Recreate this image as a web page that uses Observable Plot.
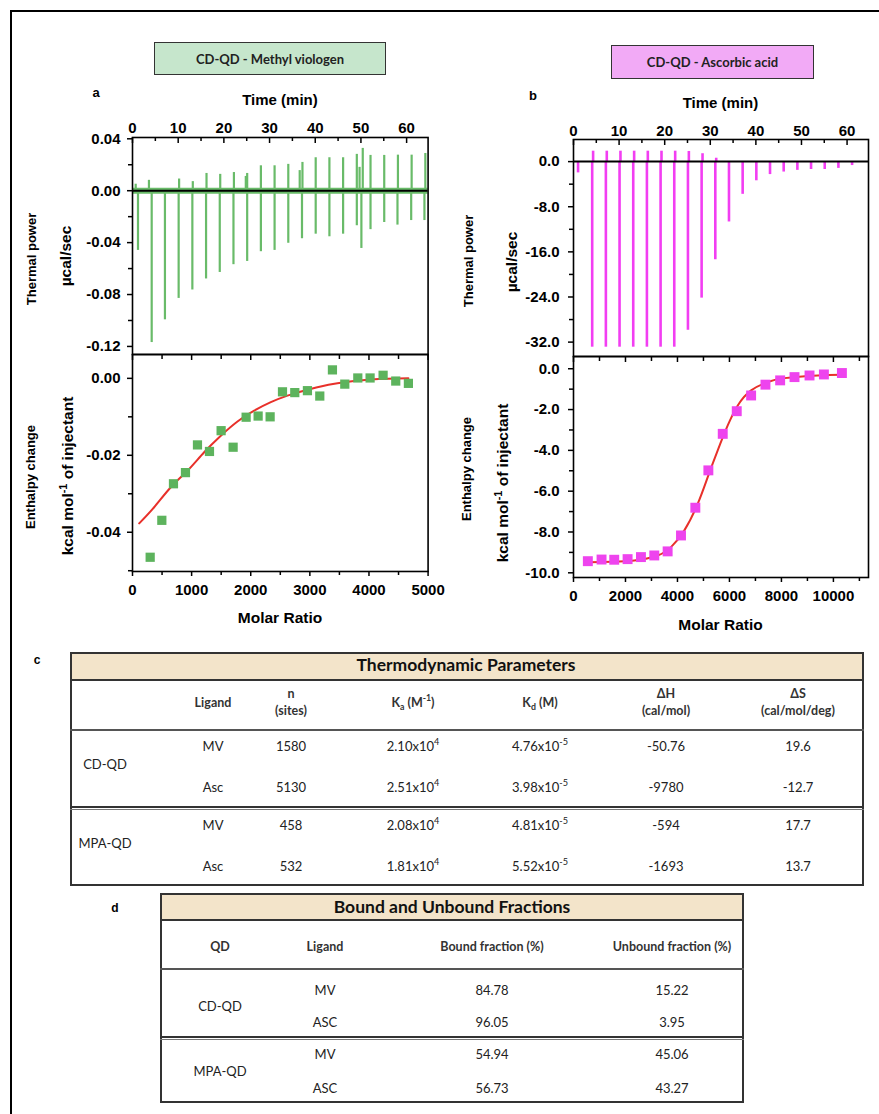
<!DOCTYPE html>
<html><head><meta charset="utf-8">
<script src="https://cdn.jsdelivr.net/npm/d3@7"></script>
<script src="https://cdn.jsdelivr.net/npm/@observablehq/plot@0.6"></script>
<style>
body{margin:0;background:#fff;}
#page{position:relative;width:879px;height:1114px;overflow:hidden;font-family:"Liberation Sans",Arial,sans-serif;background:#fff;}
.t{position:absolute;white-space:nowrap;transform:translate(-50%,-50%);line-height:1;}
.box{position:absolute;box-sizing:border-box;}
sup,sub{font-size:70%;line-height:0;}
</style></head><body><div id="page"></div>
<script>
// ---------------- DATA ----------------
// Panel a (CD-QD - Methyl viologen) raw thermogram: injection spikes
const downTimeA = [1.2, 4.2, 7.1, 10.1, 13.1, 16.1, 19.1, 22.1, 25.1, 28.1, 31.1, 34.1, 37.1, 40.1, 43.1, 46.1, 49.1, 50.1, 52.1, 55.1, 58.0, 61.0, 63.9];
const downPowerA = [-0.046, -0.117, -0.0995, -0.083, -0.0765, -0.068, -0.063, -0.057, -0.0545, -0.047, -0.046, -0.0405, -0.037, -0.0335, -0.0355, -0.0335, -0.027, -0.0445, -0.030, -0.0245, -0.0265, -0.023, -0.023];
const upTimeA = [0.7, 3.6, 10.2, 13.2, 16.2, 19.2, 22.2, 24.8, 25.1, 28.1, 31.1, 34.1, 36.6, 37.2, 40.1, 43.1, 46.1, 49.1, 49.7, 50.4, 52.1, 55.1, 58.1, 61.1, 64.1];
const upPowerA = [0.005, 0.008, 0.009, 0.007, 0.0133, 0.0126, 0.014, 0.011, 0.0133, 0.0192, 0.0192, 0.0203, 0.0155, 0.0218, 0.0254, 0.0254, 0.0254, 0.028, 0.018, 0.0326, 0.0272, 0.0272, 0.0274, 0.0274, 0.0287];
// Panel a integrated heats
const ratioA = [299, 496, 693, 896, 1099, 1302, 1499, 1702, 1922, 2125, 2328, 2537, 2745, 2959, 3168, 3382, 3591, 3811, 4019, 4239, 4453, 4667];
const heatA = [-0.0465, -0.0369, -0.0274, -0.0245, -0.0173, -0.0190, -0.0136, -0.0179, -0.0101, -0.0098, -0.0100, -0.0035, -0.0037, -0.0032, -0.0046, 0.0022, -0.0015, 0.0001, 0.0001, 0.0008, -0.0007, -0.0013];
const fitRatioA = [113, 366, 648, 930, 1212, 1494, 1776, 2058, 2340, 2621, 2903, 3185, 3467, 3749, 4031, 4313, 4667];
const fitHeatA = [-0.0377, -0.0335, -0.0283, -0.0240, -0.0192, -0.0149, -0.0112, -0.0084, -0.0062, -0.0045, -0.0032, -0.0021, -0.0013, -0.0007, -0.0003, -0.0001, 0];

// Panel b (CD-QD - Ascorbic acid) raw thermogram
const downTimeB = [1.0, 4.1, 7.1, 10.1, 13.1, 16.1, 19.1, 22.1, 25.1, 28.1, 31.1, 34.1, 37.1, 40.1, 43.1, 46.1, 49.1, 52.1, 55.1, 58.1, 61.1];
const downPowerB = [-2.0, -32.9, -32.9, -32.9, -32.9, -32.9, -32.9, -32.9, -29.9, -24.2, -17.4, -10.7, -5.8, -3.4, -2.3, -1.85, -1.55, -1.4, -1.4, -1.2, -0.7];
const upTimeB = [4.3, 7.3, 10.3, 13.3, 16.3, 19.3, 22.3, 25.3, 28.3, 31.3];
const upPowerB = [1.85, 1.85, 1.85, 1.85, 1.85, 1.85, 1.85, 1.8, 1.4, 0.6];
// Panel b integrated heats
const ratioB = [552, 1079, 1567, 2081, 2595, 3108, 3622, 4136, 4688, 5189, 5742, 6281, 6834, 7386, 7951, 8503, 9081, 9634, 10327];
const heatB = [-9.43, -9.35, -9.36, -9.33, -9.23, -9.15, -8.95, -8.17, -6.81, -4.98, -3.19, -2.08, -1.31, -0.78, -0.57, -0.41, -0.33, -0.28, -0.21];
const fitRatioB = [604, 1500, 2338, 3237, 3751, 4265, 4778, 5164, 5549, 5934, 6320, 6834, 7476, 8118, 9403, 10327];
const fitHeatB = [-9.48, -9.46, -9.40, -9.15, -8.74, -7.92, -6.62, -5.31, -4.00, -2.78, -1.80, -1.06, -0.65, -0.46, -0.33, -0.29];

// Tick labels
const timeTicks = [0, 10, 20, 30, 40, 50, 60];
const timeMinor = [5, 15, 25, 35, 45, 55];
const powerTicksA = [0.04, 0.00, -0.04, -0.08, -0.12];
const powerMinorA = [0.02, -0.02, -0.06, -0.10];
const heatTicksA = [0.00, -0.02, -0.04];
const heatMinorA = [-0.01, -0.03, -0.05];
const ratioTicksA = [0, 1000, 2000, 3000, 4000, 5000];
const ratioMinorA = [500, 1500, 2500, 3500, 4500];
const powerTicksB = [0, -8, -16, -24, -32];
const powerMinorB = [-4, -12, -20, -28];
const heatTicksB = [0, -2, -4, -6, -8, -10];
const heatMinorB = [-1, -3, -5, -7, -9];
const ratioTicksB = [0, 2000, 4000, 6000, 8000, 10000];
const ratioMinorB = [1000, 3000, 5000, 7000, 9000, 11000];

// Table c: Thermodynamic parameters
const thermoQD = ["CD-QD", "CD-QD", "MPA-QD", "MPA-QD"];
const thermoLigand = ["MV", "Asc", "MV", "Asc"];
const thermoN = ["1580", "5130", "458", "532"];
const thermoKa = ["2.10x10<sup>4</sup>", "2.51x10<sup>4</sup>", "2.08x10<sup>4</sup>", "1.81x10<sup>4</sup>"];
const thermoKd = ["4.76x10<sup>-5</sup>", "3.98x10<sup>-5</sup>", "4.81x10<sup>-5</sup>", "5.52x10<sup>-5</sup>"];
const thermoDH = ["-50.76", "-9780", "-594", "-1693"];
const thermoDS = ["19.6", "-12.7", "17.7", "13.7"];
// Table d: Bound and unbound fractions
const fracQD = ["CD-QD", "CD-QD", "MPA-QD", "MPA-QD"];
const fracLigand = ["MV", "ASC", "MV", "ASC"];
const fracBound = ["84.78", "96.05", "54.94", "56.73"];
const fracUnbound = ["15.22", "3.95", "45.06", "43.27"];

// ---------------- LAYOUT HELPERS ----------------
const page = document.getElementById("page");
const GREEN = "#69bb69", GREEN_DOT = "#5db35d", MAG = "#f23ef2", MAG_DOT = "#ee44ee", RED = "#e8302a";
const AX = "'Liberation Sans', Arial, sans-serif";
const CAL = "Lato, 'Open Sans', sans-serif";

function text(html, cx, cy, o = {}) {
  const d = document.createElement("div");
  d.className = "t";
  d.innerHTML = html;
  d.style.left = cx + "px"; d.style.top = cy + "px";
  d.style.fontSize = (o.size || 12) + "px";
  d.style.fontWeight = o.weight || "normal";
  d.style.fontFamily = o.family || AX;
  d.style.color = o.color || "#000";
  if (o.rotate) d.style.transform = "translate(-50%,-50%) rotate(-90deg)";
  if (o.center) { d.style.textAlign = "center"; d.style.lineHeight = "1.35"; }
  page.appendChild(d);
  return d;
}
function rect(x, y, w, h, style) {
  const d = document.createElement("div");
  d.className = "box";
  d.style.left = x + "px"; d.style.top = y + "px"; d.style.width = w + "px"; d.style.height = h + "px";
  Object.assign(d.style, style);
  page.appendChild(d);
  return d;
}
function panel({fl, ft, fw, fh, mL = 70, mT = 30, mR = 10, mB = 30, x, y, marks}) {
  const svg = Plot.plot({
    width: mL + fw + mR, height: mT + fh + mB,
    marginLeft: mL, marginTop: mT, marginRight: mR, marginBottom: mB,
    x, y,
    style: {fontFamily: AX, fontWeight: "bold", fontSize: "15px", color: "black", background: "transparent", overflow: "visible"},
    marks
  });
  svg.style.position = "absolute";
  svg.style.left = (fl - mL) + "px";
  svg.style.top = (ft - mT) + "px";
  page.appendChild(svg);
  return svg;
}
const fmt2 = d => d.toFixed(2);
const fmt1 = d => d.toFixed(1);
const blank = () => "";
const sw = {stroke: "black", strokeWidth: 1.5};

// outer frame
rect(10, 10, 900, 1200, {borderLeft: "2.5px solid #000", borderTop: "2.5px solid #000"});

// ---------------- PANEL A ----------------
const A = {fl: 131.7, fw: 295.6};
rect(154, 42, 232, 32.5, {background: "#c6e6cc", border: "1.5px solid #333"});
text("CD-QD - Methyl viologen", 270, 58.5, {size: 13, weight: "bold", family: CAL, color: "#222"});
text("a", 96, 92, {size: 13, weight: "bold"});
text("Time (min)", 280, 98.5, {size: 15, weight: "bold"});
text("Thermal power", 31, 259, {size: 13, weight: "bold", rotate: true});
text("µcal/sec", 66, 256, {size: 15.5, weight: "bold", rotate: true});
text("Enthalpy change", 30, 477, {size: 13, weight: "bold", rotate: true});
text("kcal mol<sup>-1</sup> of injectant", 68, 476, {size: 15.5, weight: "bold", rotate: true});
text("Molar Ratio", 280, 618, {size: 15.5, weight: "bold"});

const fhA1 = 217;
panel({fl: A.fl, ft: 137, fw: A.fw, fh: fhA1, mB: 0,
  x: {domain: [0, 64.7]}, y: {domain: [-0.1262, 0.041]},
  marks: [
    Plot.ruleY([0], {stroke: GREEN, strokeWidth: 6}),
    Plot.ruleX(downTimeA, {x: d => d, y1: 0, y2: (d, i) => downPowerA[i], stroke: GREEN, strokeWidth: 2.2}),
    Plot.ruleX(upTimeA, {x: d => d, y1: 0, y2: (d, i) => upPowerA[i], stroke: GREEN, strokeWidth: 2.2}),
    Plot.ruleY([0], {stroke: "black", strokeWidth: 2}),
    Plot.ruleX(timeTicks, {x: d => d, insetBottom: fhA1 - 6, ...sw}),
    Plot.ruleX(timeMinor, {x: d => d, insetBottom: fhA1 - 4, ...sw}),
    Plot.axisX({anchor: "top", ticks: timeTicks, tickSize: 0, tickPadding: 4, label: null, fontSize: 15}),
    Plot.axisY({ticks: powerTicksA, tickFormat: fmt2, tickSize: 5, tickPadding: 7, label: null, fontSize: 15, ...sw}),
    Plot.axisY({ticks: powerMinorA, tickFormat: blank, tickSize: 4, label: null, ...sw}),
    Plot.frame({stroke: "black", strokeWidth: 1.6})
  ]
});

const fhA2 = 217;
panel({fl: A.fl, ft: 354, fw: A.fw, fh: fhA2, mT: 0,
  x: {domain: [0, 5000]}, y: {domain: [-0.0502, 0.0062]},
  marks: [
    Plot.ruleX(ratioTicksA, {x: d => d, insetBottom: fhA2 - 6, ...sw}),
    Plot.ruleX(ratioMinorA, {x: d => d, insetBottom: fhA2 - 5, ...sw}),
    Plot.line(fitRatioA, {x: d => d, y: (d, i) => fitHeatA[i], stroke: RED, strokeWidth: 2, curve: "natural"}),
    Plot.dot(ratioA, {x: d => d, y: (d, i) => heatA[i], symbol: "square", r: 5.2, fill: GREEN_DOT, stroke: "none"}),
    Plot.axisX({ticks: ratioTicksA, tickSize: 5, tickPadding: 8, label: null, tickFormat: d => String(d), fontSize: 15, ...sw}),
    Plot.axisX({ticks: ratioMinorA, tickSize: 4, tickFormat: blank, label: null, ...sw}),
    Plot.axisY({ticks: heatTicksA, tickFormat: fmt2, tickSize: 5, tickPadding: 7, label: null, fontSize: 15, ...sw}),
    Plot.axisY({ticks: heatMinorA, tickFormat: blank, tickSize: 4, label: null, ...sw}),
    Plot.frame({stroke: "black", strokeWidth: 1.6})
  ]
});

// ---------------- PANEL B ----------------
const B = {fl: 572.7, fw: 295};
rect(611, 44.5, 203, 34, {background: "#f2aaf6", border: "1.5px solid #333"});
text("CD-QD - Ascorbic acid", 712.5, 61.5, {size: 13, weight: "bold", family: CAL, color: "#222"});
text("b", 533, 95, {size: 13, weight: "bold"});
text("Time (min)", 720.5, 101.5, {size: 15, weight: "bold"});
text("Thermal power", 467.5, 261, {size: 13, weight: "bold", rotate: true});
text("µcal/sec", 511.5, 261.5, {size: 15.5, weight: "bold", rotate: true});
text("Enthalpy change", 466, 469, {size: 13, weight: "bold", rotate: true});
text("kcal mol<sup>-1</sup> of injectant", 503, 483, {size: 15.5, weight: "bold", rotate: true});
text("Molar Ratio", 720.5, 625, {size: 15.5, weight: "bold"});

const fhB1 = 217;
panel({fl: B.fl, ft: 139, fw: B.fw, fh: fhB1, mB: 0,
  x: {domain: [0, 64.7]}, y: {domain: [-34.55, 3.92]},
  marks: [
    Plot.ruleX(downTimeB, {x: d => d, y1: 0, y2: (d, i) => downPowerB[i], stroke: MAG, strokeWidth: 2.6}),
    Plot.ruleX(upTimeB, {x: d => d, y1: 0, y2: (d, i) => upPowerB[i], stroke: MAG, strokeWidth: 2.6}),
    Plot.ruleY([0], {stroke: "black", strokeWidth: 2}),
    Plot.ruleX(timeTicks, {x: d => d, insetBottom: fhB1 - 6, ...sw}),
    Plot.ruleX(timeMinor, {x: d => d, insetBottom: fhB1 - 4, ...sw}),
    Plot.axisX({anchor: "top", ticks: timeTicks, tickSize: 0, tickPadding: 4, label: null, fontSize: 15}),
    Plot.axisY({ticks: powerTicksB, tickFormat: fmt1, tickSize: 5, tickPadding: 9, label: null, fontSize: 15, ...sw}),
    Plot.axisY({ticks: powerMinorB, tickFormat: blank, tickSize: 4, label: null, ...sw}),
    Plot.frame({stroke: "black", strokeWidth: 1.6})
  ]
});

const fhB2 = 221;
panel({fl: B.fl, ft: 356, fw: B.fw, fh: fhB2, mT: 0,
  x: {domain: [0, 11350]}, y: {domain: [-10.23, 0.6]},
  marks: [
    Plot.ruleX(ratioTicksB, {x: d => d, insetBottom: fhB2 - 6, ...sw}),
    Plot.ruleX(ratioMinorB, {x: d => d, insetBottom: fhB2 - 5, ...sw}),
    Plot.line(fitRatioB, {x: d => d, y: (d, i) => fitHeatB[i], stroke: RED, strokeWidth: 2, curve: "natural"}),
    Plot.dot(ratioB, {x: d => d, y: (d, i) => heatB[i], symbol: "square", r: 5.6, fill: MAG_DOT, stroke: "none"}),
    Plot.axisX({ticks: ratioTicksB, tickSize: 5, tickPadding: 8, label: null, tickFormat: d => String(d), fontSize: 15, ...sw}),
    Plot.axisX({ticks: ratioMinorB, tickSize: 4, tickFormat: blank, label: null, ...sw}),
    Plot.axisY({ticks: heatTicksB, tickFormat: fmt1, tickSize: 5, tickPadding: 9, label: null, fontSize: 15, ...sw}),
    Plot.axisY({ticks: heatMinorB, tickFormat: blank, tickSize: 4, label: null, ...sw}),
    Plot.frame({stroke: "black", strokeWidth: 1.6})
  ]
});

// ---------------- TABLE C ----------------
const tc = {x: 70, w: 794, top: 652, bottom: 886};
text("c", 37, 660, {size: 12, weight: "bold"});
rect(tc.x, tc.top, tc.w, 28, {background: "#f3e4ca"});
rect(tc.x, tc.top, tc.w, tc.bottom - tc.top, {border: "2px solid #333"});
rect(tc.x, tc.top + 27, tc.w, 2, {background: "#333"});
rect(tc.x, 729, tc.w, 2, {background: "#555"});
rect(tc.x, 806, tc.w, 2, {background: "#333"});
rect(tc.x, 809, tc.w, 1, {background: "#777"});
text("Thermodynamic Parameters", 466, 665, {size: 17.5, weight: "bold", family: CAL, color: "#111"});
const colC = [105, 213, 291, 413, 540, 666, 798];
const headC = ["", "Ligand", "n<br>(sites)", "K<sub>a</sub> (M<sup>-1</sup>)", "K<sub>d</sub> (M)", "ΔH<br>(cal/mol)", "ΔS<br>(cal/mol/deg)"];
headC.forEach((h, j) => { if (h) text(h, colC[j], 703, {size: 12.5, weight: "bold", family: CAL, color: "#333", center: true}); });
const rowC = [746, 787, 825, 866];
text(thermoQD[0], colC[0], 764, {size: 13, family: CAL, color: "#222"});
text(thermoQD[2], colC[0], 843, {size: 13, family: CAL, color: "#222"});
rowC.forEach((y, i) => {
  [thermoLigand[i], thermoN[i], thermoKa[i], thermoKd[i], thermoDH[i], thermoDS[i]].forEach((v, j) =>
    text(v, colC[j + 1], y, {size: 13, family: CAL, color: "#222"}));
});

// ---------------- TABLE D ----------------
const td = {x: 160, w: 584, top: 893, bottom: 1103};
text("d", 115, 908, {size: 12, weight: "bold"});
rect(td.x, td.top, td.w, 27, {background: "#f3e4ca"});
rect(td.x, td.top, td.w, td.bottom - td.top, {border: "2px solid #333"});
rect(td.x, td.top + 26, td.w, 2, {background: "#333"});
rect(td.x, 968, td.w, 2, {background: "#555"});
rect(td.x, 1036, td.w, 2, {background: "#333"});
rect(td.x, 1039, td.w, 1, {background: "#777"});
text("Bound and Unbound Fractions", 452, 907, {size: 17.5, weight: "bold", family: CAL, color: "#111"});
const colD = [220, 325, 492, 672];
["QD", "Ligand", "Bound fraction (%)", "Unbound fraction (%)"].forEach((h, j) => text(h, colD[j], 947, {size: 12.5, weight: "bold", family: CAL, color: "#333"}));
const rowD = [990, 1022, 1054, 1088];
text(fracQD[0], colD[0], 1006, {size: 13, family: CAL, color: "#222"});
text(fracQD[2], colD[0], 1071, {size: 13, family: CAL, color: "#222"});
rowD.forEach((y, i) => {
  [fracLigand[i], fracBound[i], fracUnbound[i]].forEach((v, j) => text(v, colD[j + 1], y, {size: 13, family: CAL, color: "#222"}));
});
</script></body></html>
